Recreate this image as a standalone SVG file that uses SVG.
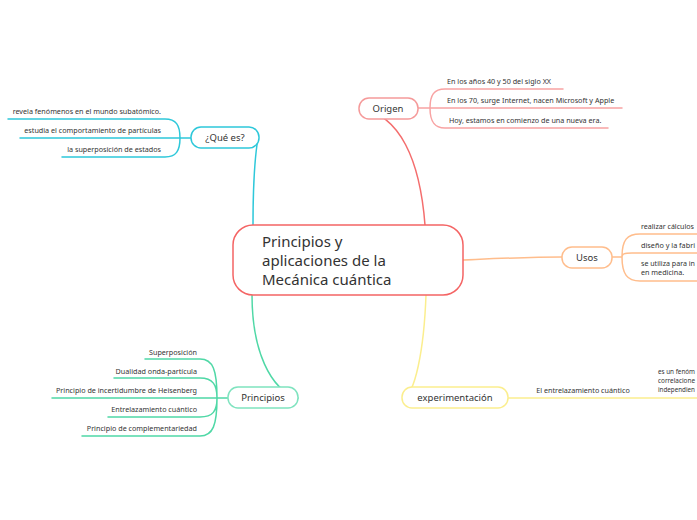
<svg xmlns="http://www.w3.org/2000/svg" width="697" height="520" viewBox="0 0 697 520">
<style>
text{font-family:"Noto Sans","Liberation Sans",sans-serif;fill:#333}
.leaf{font-size:7.2px}
.node{font-size:9.5px;text-anchor:middle}
.main{font-size:15px}
.c{fill:none;stroke-width:1.5;stroke-linecap:round}
.red{stroke:#f46d6d}
.lred{stroke:#f8a3a3}
.cyan{stroke:#2ec8da}
.orange{stroke:#ffbd8c}
.green{stroke:#4fd8a6}
.yellow{stroke:#fbee8e}
.box{fill:#fff;stroke-width:1.5}
</style>
<rect width="697" height="520" fill="#fff"/>
<g id="connectors">
<path class="c cyan" d="M253,225 C253,180 256,150 258,138"/>
<path class="c red" d="M425,225 C420,160 400,115 360,108"/>
<path class="c orange" d="M463,260 C510,258 530,257 562,257"/>
<path class="c green" d="M252,295 C252,350 270,390 298,398"/>
<path class="c yellow" d="M426,295 C424,350 415,395 403,398"/>
<path class="c cyan" d="M191,138 L20,138 M180,138 C180,125 176,119 165,119 L8,119 M180,138 C180,151 176,157 165,157 L62,157"/>
<path class="c lred" d="M418,108 L622,108 M430,108 C430,95 434,89 445,89 L563,89 M430,108 C430,121 434,128 445,128 L608,128"/>
<path class="c orange" d="M612,257 L622,257 M622,257 C622,240 627,234 640,234 L697,234 M622,257 C622,254 624,253 632,253 L697,253 M622,257 C622,274 627,281 640,281 L697,281"/>
<path class="c green" d="M228,398 L52,398 M217,398 C217,370 213,359 200,359 L145,359 M217,398 C217,385 213,378 200,378 L114,378 M217,398 C217,411 213,417 200,417 L108,417 M217,398 C217,425 213,436 200,436 L82,436"/>
<path class="c yellow" d="M508,398 L697,398"/>
</g>
<g id="center">
<rect class="box" x="233" y="225" width="230" height="70" rx="20" stroke="#f46464" stroke-width="2.5"/>
<text class="main" x="262" y="247">Principios y</text>
<text class="main" x="262" y="266">aplicaciones de la</text>
<text class="main" x="262" y="285">Mecánica cuántica</text>
</g>
<g id="que-es">
<rect class="box" x="191" y="127" width="68" height="21" rx="10" stroke="#2ec8da"/>
<text class="node" x="225" y="141">¿Qué es?</text>
</g>
<g id="que-es-leaves">
<text class="leaf" x="161" y="114" text-anchor="end">revela fenómenos en el mundo subatómico.</text>
<text class="leaf" x="161" y="133" text-anchor="end">estudia el comportamiento de partículas</text>
<text class="leaf" x="161" y="152" text-anchor="end">la superposición de estados</text>
</g>
<g id="origen">
<rect class="box" x="359" y="98" width="59" height="21" rx="10" stroke="#f59a9a"/>
<text class="node" x="388" y="112">Origen</text>
</g>
<g id="origen-leaves">
<text class="leaf" x="447" y="84">En los años 40 y 50 del siglo XX</text>
<text class="leaf" x="447" y="103">En los 70, surge Internet, nacen Microsoft y Apple</text>
<text class="leaf" x="449" y="123">Hoy, estamos en comienzo de una nueva era.</text>
</g>
<g id="usos">
<rect class="box" x="562" y="247" width="50" height="21" rx="10" stroke="#ffbd8c"/>
<text class="node" x="587" y="261">Usos</text>
</g>
<g id="usos-leaves">
<text class="leaf" x="641" y="229" textLength="53" lengthAdjust="spacingAndGlyphs">realizar cálculos</text>
<text class="leaf" x="641" y="248" textLength="54" lengthAdjust="spacingAndGlyphs">diseño y la fabri</text>
<text class="leaf" x="641" y="266" textLength="54" lengthAdjust="spacingAndGlyphs">se utiliza para in</text>
<text class="leaf" x="641" y="275">en medicina.</text>
</g>
<g id="principios">
<rect class="box" x="228" y="387" width="70" height="21" rx="10" stroke="#7fe3bf"/>
<text class="node" x="263" y="401">Principios</text>
</g>
<g id="principios-leaves">
<text class="leaf" x="197" y="355" text-anchor="end">Superposición</text>
<text class="leaf" x="197" y="374" text-anchor="end">Dualidad onda-partícula</text>
<text class="leaf" x="197" y="393" text-anchor="end">Principio de incertidumbre de Heisenberg</text>
<text class="leaf" x="197" y="412" text-anchor="end">Entrelazamiento cuántico</text>
<text class="leaf" x="197" y="431" text-anchor="end">Principio de complementariedad</text>
</g>
<g id="experimentacion">
<rect class="box" x="402" y="387" width="106" height="21" rx="10" stroke="#fbee8e"/>
<text class="node" x="455" y="401">experimentación</text>
</g>
<g id="experimentacion-leaves">
<text class="leaf" x="583" y="393" text-anchor="middle">El entrelazamiento cuántico</text>
<text class="leaf" x="658" y="374" textLength="37" lengthAdjust="spacingAndGlyphs">es un fenóm</text>
<text class="leaf" x="658" y="383" textLength="37" lengthAdjust="spacingAndGlyphs">correlacione</text>
<text class="leaf" x="658" y="392" textLength="37" lengthAdjust="spacingAndGlyphs">independien</text>
</g>
</svg>
